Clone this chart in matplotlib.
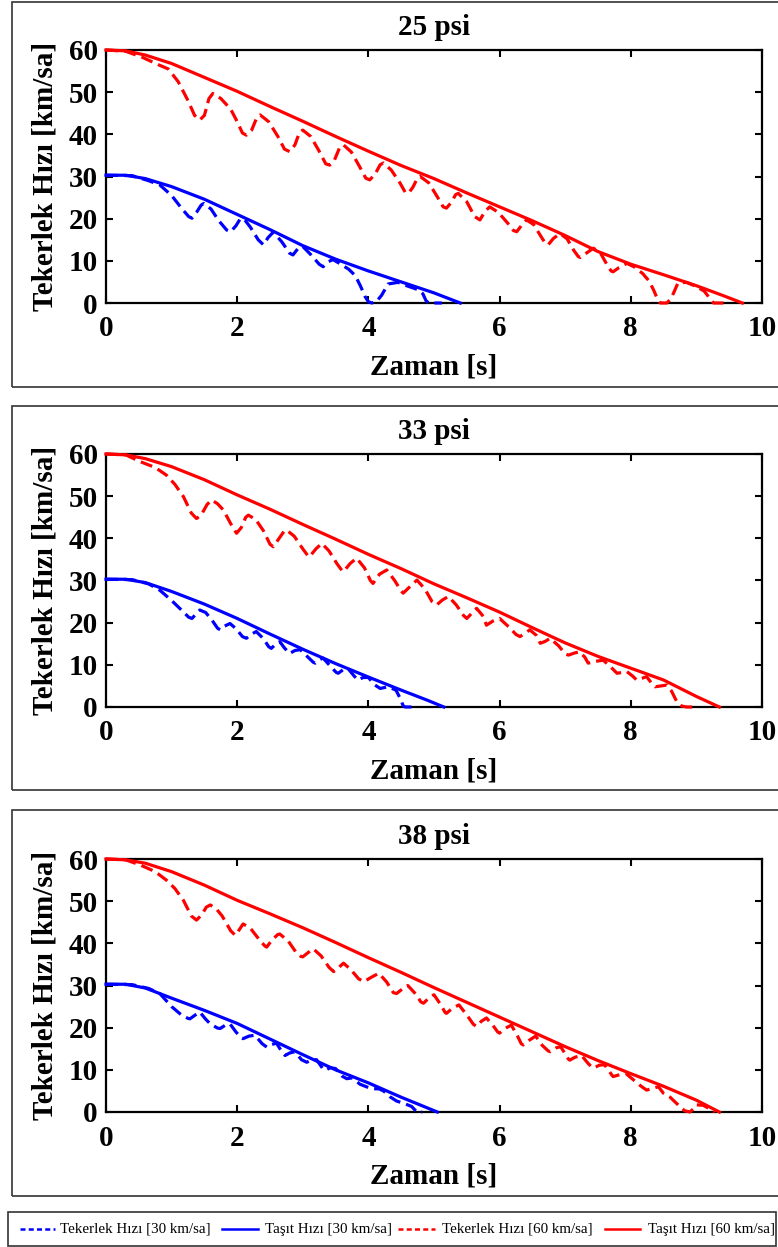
import numpy as np
import matplotlib
matplotlib.use("Agg")
import matplotlib.pyplot as plt
from matplotlib.lines import Line2D
from matplotlib.patches import Rectangle

plt.rcParams['font.family'] = ['Liberation Serif', 'DejaVu Serif']
plt.rcParams['font.weight'] = 'bold'

# tire pressures, one panel each
pressures = ['25 psi', '33 psi', '38 psi']

# --- 25 psi ---
t_veh60_25 = [0, 0.3, 0.6, 1, 1.5, 2, 2.5, 3, 3.5, 4, 4.5, 5, 5.5, 6, 6.5, 7, 7.5, 8, 8.5, 9, 9.4, 9.7]
v_veh60_25 = [60, 59.8, 58.8, 56.8, 53.5, 50.2, 46.6, 43.1, 39.5, 36, 32.6, 29.5, 26.1, 22.8, 19.5, 16.0, 12.2, 9.2, 6.7, 4.1, 1.8, 0]
t_whl60_25 = [0, 0.3, 0.55, 0.8, 0.95, 1.1, 1.25, 1.35, 1.43, 1.5, 1.57, 1.63, 1.75, 1.9, 2.0, 2.08, 2.14,
              2.22, 2.3, 2.35, 2.48, 2.62, 2.72, 2.8, 2.88, 2.95, 3.0, 3.12, 3.25, 3.35, 3.41, 3.48, 3.56,
              3.62, 3.74, 3.86, 3.96, 4.02, 4.1, 4.18, 4.23, 4.35, 4.48, 4.56, 4.61, 4.68, 4.75, 4.79, 4.92,
              5.05, 5.14, 5.19, 5.26, 5.33, 5.37, 5.5, 5.62, 5.70, 5.78, 5.85, 5.98, 6.12, 6.21, 6.26, 6.33,
              6.41, 6.52, 6.63, 6.70, 6.74, 6.82, 6.92, 7.03, 7.13, 7.2, 7.23, 7.32, 7.43, 7.54, 7.64, 7.7,
              7.73, 7.82, 7.94, 8.06, 8.18, 8.28, 8.35, 8.41, 8.45, 8.55, 8.61, 8.65, 8.72, 8.85, 9.0, 9.12,
              9.2, 9.26, 9.45]
v_whl60_25 = [60, 59.7, 58.3, 56.5, 55.5, 52.5, 48, 44.5, 43.4, 44.5, 48.5, 49.7, 48.5, 46, 43, 40.3, 39.8,
              41, 44, 44.6, 43, 39.5, 36.5, 35.9, 37.5, 40.5, 41, 39.5, 36, 33, 32.7, 33.8, 36.8,
              37.5, 35.8, 32.5, 29.6, 29.2, 30.5, 32.8, 33.2, 31.5, 28.5, 26.3, 26.0, 27.5, 29.7, 30, 28.5,
              25.2, 22.8, 22.5, 23.8, 25.7, 26, 24, 20.5, 19.7, 21.8, 22.8, 21.5, 19, 17.2, 16.9, 18.3,
              19.7, 18.6, 15.8, 14.1, 13.8, 15.3, 16.5, 15.2, 12.5, 11.0, 10.8, 11.8, 13.0, 11.8, 9.0, 7.6,
              7.4, 8.4, 9.4, 8.5, 7.0, 5.2, 3.0, 0.8, 0, 0, 1.0, 2.3, 4.8, 4.9, 3.9, 2.8,
              1.2, 0, 0]
t_veh30_25 = [0, 0.3, 0.6, 1, 1.5, 2, 2.5, 3, 3.5, 4, 4.5, 5, 5.4]
v_veh30_25 = [30.3, 30.3, 29.5, 27.6, 24.6, 21, 17.4, 13.6, 10.4, 7.6, 5.0, 2.4, 0]
t_whl30_25 = [0, 0.4, 0.65, 0.82, 1.0, 1.15, 1.26, 1.31, 1.38, 1.45, 1.49, 1.6, 1.72, 1.84, 1.9, 1.98,
              2.04, 2.1, 2.2, 2.32, 2.4, 2.47, 2.55, 2.68, 2.8, 2.85, 2.93, 3.0, 3.12, 3.25, 3.31, 3.39,
              3.46, 3.58, 3.7, 3.8, 3.88, 3.95, 4.0, 4.05, 4.12, 4.2, 4.3, 4.45, 4.6, 4.75, 4.83, 4.88,
              4.92, 5.12]
v_whl30_25 = [30.3, 30.2, 29, 28, 25.5, 22.5, 20.5, 20.1, 21.5, 23.2, 23.6, 22.3, 19.5, 17.3, 16.9, 18.3,
              19.8, 20.0, 18, 15, 13.8, 15.5, 16.8, 14.5, 11.8, 11.4, 13, 13.4, 11.5, 9.2, 8.6, 9.8,
              10.3, 9.2, 8.0, 6.5, 4.0, 1.5, 0.3, 0, 0.3, 1.8, 4.5, 4.9, 4.0, 3.2, 2.2, 0.5,
              0, 0]

# --- 33 psi ---
t_veh60_33 = [0, 0.3, 0.6, 1, 1.5, 2, 2.5, 3, 3.5, 4, 4.5, 5, 5.5, 6, 6.5, 7, 7.5, 8, 8.5, 9, 9.35]
v_veh60_33 = [60, 59.8, 58.9, 57, 53.9, 50.3, 46.9, 43.3, 39.8, 36.2, 32.8, 29.2, 25.9, 22.5, 18.8, 15.2, 12.0, 9.2, 6.4, 2.5, 0]
t_whl60_33 = [0, 0.3, 0.52, 0.75, 0.92, 1.05, 1.18, 1.3, 1.38, 1.45, 1.54, 1.61, 1.7, 1.79, 1.9, 1.99,
              2.06, 2.13, 2.17, 2.28, 2.4, 2.5, 2.55, 2.63, 2.72, 2.75, 2.87, 3.0, 3.08, 3.1, 3.2, 3.29,
              3.4, 3.52, 3.6, 3.62, 3.72, 3.82, 3.94, 4.03, 4.07, 4.17, 4.28, 4.4, 4.5, 4.53, 4.63, 4.74,
              4.86, 4.97, 5.04, 5.13, 5.22, 5.34, 5.45, 5.5, 5.58, 5.65, 5.75, 5.8, 5.9, 6.0, 6.14, 6.25,
              6.31, 6.4, 6.46, 6.56, 6.62, 6.7, 6.77, 6.9, 7.0, 7.05, 7.14, 7.22, 7.3, 7.35, 7.45, 7.58,
              7.7, 7.79, 7.87, 7.94, 8.03, 8.09, 8.17, 8.24, 8.32, 8.37, 8.46, 8.55, 8.62, 8.7, 8.78, 8.85,
              9.0]
v_whl60_33 = [60, 59.8, 58.2, 56.8, 55, 52.8, 49.9, 46, 44.7, 45.5, 48, 49.1, 48.2, 46.7, 43.5, 41.2,
              42.5, 45, 45.5, 44.5, 41.8, 38.6, 38, 39.8, 41.8, 42, 40.5, 37.5, 35.8, 35.6, 37.5, 38.8,
              37, 34, 32.3, 32.1, 34, 35.3, 33, 30, 29.3, 31.5, 32.5, 30, 27.5, 27, 28.5, 30.1,
              28, 25, 24.2, 25.4, 26.2, 24.2, 21.7, 21, 22.3, 23.4, 21.5, 19.4, 20.4, 21, 19, 17.2,
              16.7, 17.6, 18.3, 17, 15.1, 15.6, 16.3, 14.5, 12.6, 12.3, 12.8, 13.1, 11.8, 10.4, 10.8, 11.1,
              9.4, 8.0, 8.2, 8.4, 7.3, 6.4, 6.8, 7.2, 5.6, 4.8, 5.0, 5.2, 3.8, 1.3, 0.2, 0,
              0]
t_veh30_33 = [0, 0.3, 0.6, 1, 1.5, 2, 2.5, 3, 3.5, 4, 4.5, 4.9, 5.15]
v_veh30_33 = [30.3, 30.3, 29.5, 27.4, 24.4, 21, 17.3, 13.7, 10.3, 7.1, 4.0, 1.6, 0]
t_whl30_33 = [0, 0.4, 0.65, 0.82, 0.99, 1.15, 1.26, 1.31, 1.37, 1.43, 1.52, 1.62, 1.7, 1.74, 1.81, 1.89,
              1.98, 2.08, 2.14, 2.21, 2.29, 2.4, 2.48, 2.52, 2.58, 2.65, 2.72, 2.8, 2.88, 2.96, 3.08, 3.16,
              3.19, 3.25, 3.31, 3.43, 3.51, 3.54, 3.61, 3.68, 3.78, 3.84, 3.92, 4.0, 4.1, 4.18, 4.3, 4.42,
              4.48, 4.53, 4.56, 4.75]
v_whl30_33 = [30.3, 30.2, 29.2, 27.7, 25.4, 23, 21.3, 21, 22, 23, 22.4, 20.5, 18.7, 18.3, 19.2, 19.8,
              18.6, 16.7, 16.3, 17.2, 17.9, 16.2, 14.3, 13.9, 14.8, 15.5, 14, 12.7, 13.4, 13.6, 11.8, 10.6,
              10.4, 11.2, 11.6, 9.5, 8.2, 8.0, 8.8, 9.3, 7.4, 6.4, 7.0, 7.0, 5.2, 4.4, 4.8, 4.0,
              2.2, 0.3, 0, 0]

# --- 38 psi ---
t_veh60_38 = [0, 0.3, 0.6, 1, 1.5, 2, 2.5, 3, 3.5, 4, 4.5, 5, 5.5, 6, 6.5, 7, 7.5, 8, 8.5, 9, 9.35]
v_veh60_38 = [60, 59.8, 59, 57, 53.8, 50.2, 47, 43.7, 40.2, 36.6, 33.1, 29.5, 26, 22.5, 19, 15.5, 12.2, 9.1, 6.1, 2.8, 0]
t_whl60_38 = [0, 0.3, 0.52, 0.75, 0.92, 1.05, 1.18, 1.3, 1.38, 1.46, 1.53, 1.59, 1.68, 1.77, 1.9, 1.97,
              2.03, 2.09, 2.2, 2.33, 2.42, 2.45, 2.53, 2.62, 2.65, 2.78, 2.9, 2.97, 3.0, 3.08, 3.16, 3.28,
              3.4, 3.47, 3.55, 3.62, 3.73, 3.85, 3.93, 4.05, 4.16, 4.28, 4.38, 4.43, 4.52, 4.6, 4.72, 4.8,
              4.84, 4.92, 5.0, 5.1, 5.17, 5.19, 5.28, 5.38, 5.5, 5.6, 5.65, 5.72, 5.8, 5.9, 5.97, 6.0,
              6.08, 6.18, 6.28, 6.33, 6.36, 6.45, 6.55, 6.65, 6.74, 6.77, 6.86, 6.93, 7.0, 7.05, 7.07, 7.15,
              7.25, 7.35, 7.41, 7.43, 7.52, 7.6, 7.7, 7.73, 7.82, 7.92, 8.05, 8.15, 8.24, 8.34, 8.42, 8.5,
              8.6, 8.7, 8.75, 8.82, 8.9, 8.96, 9.0, 9.1, 9.2, 9.28]
v_whl60_38 = [60, 59.8, 58.6, 57, 55, 53, 50.2, 46.5, 45.5, 46.8, 48.6, 49.1, 48.2, 46.5, 43, 41.9,
              43.2, 44.6, 43.6, 41, 39.4, 39.1, 40.8, 42.1, 42.2, 40.5, 37.8, 36.9, 36.8, 37.8, 38.7, 37,
              34.3, 33.3, 34.3, 35.3, 33.8, 31.6, 30.9, 32.0, 32.9, 30.8, 28.3, 28.1, 29.2, 30, 28, 26.1,
              25.8, 27, 27.8, 25.5, 23.6, 23.4, 24.6, 25.4, 23, 20.8, 20.3, 21.5, 22.3, 20.5, 19, 18.7,
              19.8, 20.6, 17.8, 16.2, 15.9, 17, 18, 15.8, 14.5, 14.3, 15.2, 15.5, 13.8, 12.5, 12.3, 13,
              13.4, 11.5, 10.6, 10.4, 11.1, 11.2, 9, 8.4, 8.8, 9.2, 7.5, 6.2, 5.2, 5.6, 6, 4.4,
              3.5, 2.0, 1.3, 0.3, 0, 0.8, 1.7, 1.6, 0.8, 0]
t_veh30_38 = [0, 0.3, 0.6, 1, 1.5, 2, 2.5, 3, 3.5, 4, 4.5, 4.8, 5.05]
v_veh30_38 = [30.3, 30.3, 29.4, 27, 24.1, 21, 17.3, 13.6, 10.0, 6.9, 3.5, 1.6, 0]
t_whl30_38 = [0, 0.4, 0.65, 0.82, 1.0, 1.15, 1.25, 1.28, 1.36, 1.43, 1.52, 1.59, 1.7, 1.74, 1.82, 1.89,
              1.98, 2.06, 2.09, 2.18, 2.27, 2.38, 2.45, 2.52, 2.6, 2.68, 2.73, 2.8, 2.88, 2.98, 3.06, 3.14,
              3.21, 3.3, 3.34, 3.42, 3.5, 3.6, 3.67, 3.76, 3.87, 4.0, 4.07, 4.16, 4.23, 4.33, 4.43, 4.55,
              4.66, 4.72, 4.74, 4.82]
v_whl30_38 = [30.3, 30.2, 29.3, 28.1, 25, 23, 22.2, 22.1, 23, 23.7, 22, 20.9, 19.9, 19.8, 20.6, 20.9,
              19, 17.6, 17.4, 18, 18.2, 16.2, 15.4, 16.0, 16.3, 14.3, 13.4, 14, 14.3, 12.4, 11.8, 12.4,
              12.4, 10.4, 9.9, 10.5, 10.3, 8.5, 7.9, 8.1, 6.6, 5.8, 5.5, 5.5, 5.0, 3.6, 2.6, 2.0,
              1.3, 0.3, 0, 0]

panels = [
    (t_whl30_25, v_whl30_25, t_veh30_25, v_veh30_25, t_whl60_25, v_whl60_25, t_veh60_25, v_veh60_25),
    (t_whl30_33, v_whl30_33, t_veh30_33, v_veh30_33, t_whl60_33, v_whl60_33, t_veh60_33, v_veh60_33),
    (t_whl30_38, v_whl30_38, t_veh30_38, v_veh30_38, t_whl60_38, v_whl60_38, t_veh60_38, v_veh60_38),
]

labels = ['Tekerlek Hızı [30 km/sa]', 'Taşıt Hızı [30 km/sa]',
          'Tekerlek Hızı [60 km/sa]', 'Taşıt Hızı [60 km/sa]']
colors = ['#0000ff', '#0000ff', '#ff0000', '#ff0000']
dashed = [True, False, True, False]

W, H = 778, 1247
fig = plt.figure(figsize=(W / 100, H / 100), dpi=100)

# panel geometry in pixels: (axes top, axes bottom, frame top, frame bottom)
geom = [(50, 303, 2, 387), (454, 707, 406, 790), (859, 1112, 810, 1196)]
ax_left, ax_right = 106, 762
fs = 21

dash = (3.8, 1.9)
for (top, bot, ftop, fbot), title, data in zip(geom, pressures, panels):
    fig.patches.append(Rectangle((12 / W, 1 - fbot / H), (W + 10 - 12) / W, (fbot - ftop) / H,
                                 transform=fig.transFigure, fill=False,
                                 edgecolor='#333333', linewidth=1.2))
    ax = fig.add_axes([ax_left / W, 1 - bot / H, (ax_right - ax_left) / W, (bot - top) / H])
    tw30, vw30, tv30, vv30, tw60, vw60, tv60, vv60 = data
    ax.plot(tw30, vw30, color='#0000ff', lw=2.3, dashes=dash, clip_on=False, zorder=3)
    ax.plot(tv30, vv30, color='#0000ff', lw=2.3, clip_on=False, zorder=3)
    ax.plot(tw60, vw60, color='#ff0000', lw=2.3, dashes=dash, clip_on=False, zorder=3)
    ax.plot(tv60, vv60, color='#ff0000', lw=2.3, clip_on=False, zorder=3)
    ax.set_xlim(0, 10)
    ax.set_ylim(0, 60)
    ax.set_xticks(np.arange(0, 11, 2))
    ax.set_yticks(np.arange(0, 61, 10))
    ax.tick_params(direction='in', top=True, right=True, length=5, width=1.5, labelsize=fs)
    ax.tick_params(axis='x', pad=9)
    ax.tick_params(axis='y', pad=6)
    for s in ax.spines.values():
        s.set_linewidth(1.6)
    ax.set_title(title, fontsize=fs, fontweight='bold', pad=11)
    ax.set_xlabel('Zaman [s]', fontsize=fs, fontweight='bold', labelpad=8)
    ax.set_ylabel('Tekerlek Hızı [km/sa]', fontsize=fs, fontweight='bold', labelpad=7)

# legend strip along the bottom, keys laid out by hand
fig.patches.append(Rectangle((8 / W, 1 - 1246 / H), 768 / W, 34 / H,
                             transform=fig.transFigure, fill=False,
                             edgecolor='#333333', linewidth=1.2))
key_x = [(20, 55), (222, 258), (398, 435), (605, 640)]
text_x = [60, 265, 442, 648]
y_leg = 1 - 1229 / H
for (x0, x1), tx, lab, c, d in zip(key_x, text_x, labels, colors, dashed):
    key = Line2D([x0 / W, x1 / W], [y_leg, y_leg], transform=fig.transFigure,
                 color=c, lw=1.8)
    if d:
        key.set_dashes((2.0, 1.3))
    fig.add_artist(key)
    fig.text(tx / W, y_leg, lab, ha='left', va='center', fontsize=10.8,
             fontweight='normal', family='Liberation Serif')

fig.savefig('out.png', dpi=100)
